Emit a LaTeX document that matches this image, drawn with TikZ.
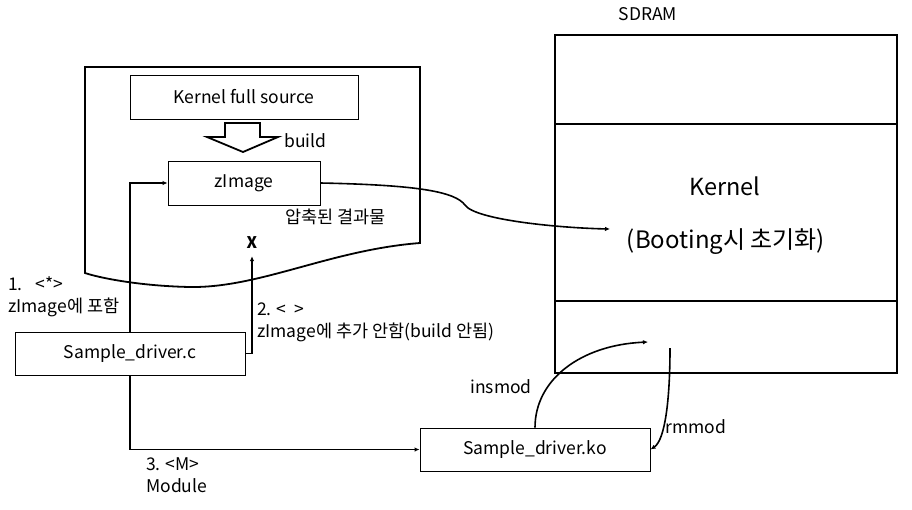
\documentclass[tikz,border=0pt]{standalone}
\usepackage{fontspec}
\setmainfont{Noto Sans CJK KR}
\usetikzlibrary{arrows.meta,positioning}

\tikzset{
  box/.style={draw, line width=0.9pt, minimum width=230pt, minimum height=43pt, inner sep=0pt},
  conn/.style={line width=1.6pt, -{Latex[length=5pt,width=4.5pt]}},
  lbl/.style={inner sep=0pt, align=left, font=\fontsize{17.5}{22}\selectfont}
}

\begin{document}
\begin{tikzpicture}[x=1pt,y=-1pt,font=\fontsize{17.5}{20}\selectfont]
  \useasboundingbox (0,0) rectangle (912,509);
  % source tree with wavy bottom
  \draw[line width=1.8pt] (85,67) -- (420,67) -- (420,243)
     .. controls (330,250) and (260,288) .. (190,287)
     .. controls (140,286) and (100,278) .. (85,273) -- cycle;
  \node[box, minimum width=228pt, minimum height=44pt] (src) at (244,97) {Kernel full source};
  \node[box, minimum width=152pt, minimum height=44pt] (zimg) at (244,183) {zImage};
  % hollow build arrow
  \draw[line width=1.8pt] (225,123) -- (260,123) -- (260,137) -- (278,137) -- (243,152)
     -- (207,137) -- (225,137) -- cycle;
  \node[lbl, anchor=west] (build) at (284,141) {build};
  \node[lbl, anchor=west] (packed) at (285,217) {압축된 결과물};
  \node[inner sep=1pt, font=\fontsize{16}{18}\selectfont\bfseries] (xmark) at (252,243) {X};

  % SDRAM
  \draw[line width=1.8pt] (555,35) rectangle (897,373);
  \draw[line width=1.8pt] (555,124) -- (897,124);
  \draw[line width=1.8pt] (555,301) -- (897,301);
  \node[lbl] (sdram) at (648,14) {SDRAM};
  \node[inner sep=0pt, font=\fontsize{23.5}{26}\selectfont] (kern) at (725,186) {Kernel};
  \node[inner sep=0pt, font=\fontsize{24}{26}\selectfont] (boot) at (726,242) {(Booting시 초기화)};
  \coordinate (kin) at (610,229);
  \coordinate (insin) at (648,342);
  \coordinate (rmout) at (670,348);

  % drivers
  \node[box] (drvc) at (130,353.5) {Sample\_driver.c};
  \node[box] (drvko) at (535,449.5) {Sample\_driver.ko};

  \node[lbl, anchor=west] (opt1) at (8,297) {1.\enspace\ <*>\\zImage에 포함};
  \node[lbl, anchor=west] (opt2) at (257,322) {2. <\ \ >\\zImage에 추가 안함(build 안됨)};
  \node[lbl, anchor=west] (opt3) at (146,475) {3. <M>\\Module};
  \node[lbl] (ins) at (501,387) {insmod};
  \node[lbl] (rm) at (696,427) {rmmod};

  \draw[conn] (drvc.north) |- (zimg.west);
  \draw[conn, shorten >=6pt] (drvc.east) -| (xmark.south);
  \draw[conn] (drvc.south) |- (drvko.west);
  \draw[conn] (zimg.east) .. controls (420,185) and (455,192) .. (465,205)
     .. controls (475,220) and (560,228) .. (kin);
  \draw[conn] (drvko.north) .. controls (535,380) and (580,345) .. (insin);
  \draw[conn] (rmout) .. controls (670,400) and (665,440) .. (drvko.east);
\end{tikzpicture}
\end{document}
